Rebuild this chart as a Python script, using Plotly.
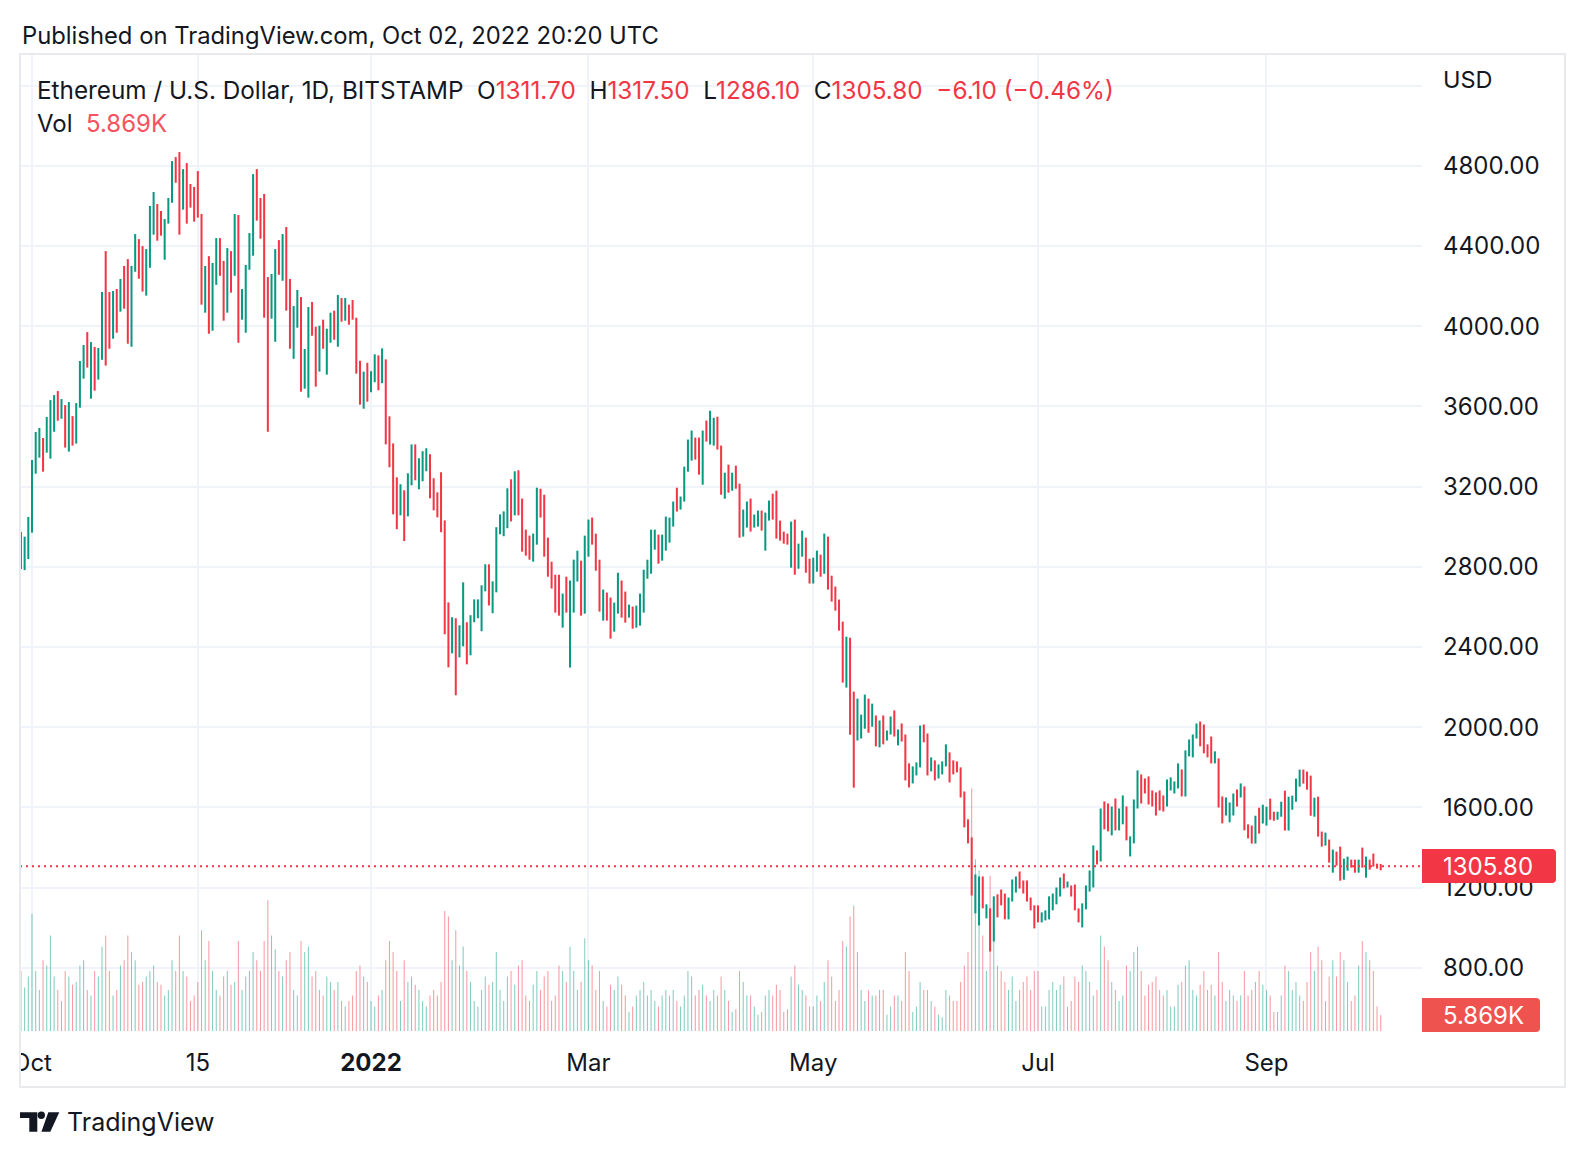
import pandas as pd
import plotly.graph_objects as go

# ---------------- data ----------------
dates = pd.date_range("2021-09-28", "2022-10-02", freq="D")

high = [
    2973, 2950, 3048,
    3332, 3472, 3492, 3442, 3547, 3631, 3656, 3676, 3636, 3606, 3621, 3551, 3616, 3826, 3906, 3970, 3920, 3896, 3891, 4170,
    4374, 4170, 4175, 4185, 4235, 4300, 4334, 4300, 4459, 4434, 4399,
    4384, 4599, 4669, 4609, 4574, 4534, 4639, 4823, 4843, 4868, 4783, 4813, 4709, 4694, 4773, 4559, 4300, 4349, 4315, 4439,
    4439, 4325, 4389, 4374, 4559, 4554, 4185, 4305, 4464, 4758,
    4783, 4639, 4659, 4245, 4260, 4384, 4429, 4459, 4494, 4235, 4100, 4180, 4145, 3886, 4095, 4120, 3997, 4002, 4032, 3987,
    4067, 4077, 4155, 4140, 4140, 4107, 4130, 4042, 3827, 3773, 3817,
    3775, 3859, 3854, 3889, 3834, 3550, 3415, 3246, 3211, 3181, 3266, 3410, 3410, 3341, 3376, 3391, 3361, 3241, 3171, 3271,
    3031, 2622, 2548, 2543, 2508, 2722, 2523, 2558, 2637, 2637, 2707,
    2812, 2812, 2727, 2997, 3061, 3076, 3191, 3236, 3276, 3281, 3140, 2985, 2955, 2965, 3194, 3189, 3159, 2945, 2825, 2760,
    2760, 2666, 2750, 2731, 2835, 2880, 2830, 2955,
    3035, 3045, 2965, 2835, 2686, 2671, 2646, 2621, 2770, 2731, 2676, 2611, 2601, 2606, 2666, 2785, 2835, 2985, 2985, 2960,
    2960, 3050, 3045, 3125, 3194, 3150, 3299, 3434, 3479, 3444, 3444,
    3479, 3529, 3578, 3543, 3548, 3404, 3269, 3309, 3269, 3304, 3214, 3085, 3125, 3140, 3060, 3080, 3080, 3070, 3130, 3164,
    3179, 3030, 2975, 2965, 3025, 3035, 2915, 2980, 2945, 2840,
    2845, 2880, 2860, 2965, 2950, 2755, 2701, 2636, 2526, 2451, 2446, 2177, 2142, 2062, 2162, 2142, 2117, 2058, 2033, 2058,
    1983, 2053, 2083, 1988, 2018, 1963, 1819, 1804, 1824, 2008, 2013,
    1968, 1849, 1834, 1814, 1829, 1914, 1874, 1834, 1829, 1799, 1679, 1540, 1450, 1265, 1255, 1255, 1116, 1096, 1156, 1166,
    1190, 1170, 1150, 1240, 1255, 1280, 1235, 1235, 1150, 1111,
    1111, 1076, 1086, 1156, 1170, 1200, 1250, 1270, 1230, 1210, 1215, 1096, 1121, 1210, 1285, 1410, 1385, 1594, 1629, 1619,
    1604, 1644, 1594, 1659, 1604, 1455, 1639, 1784, 1764, 1744, 1754,
    1684, 1674, 1684, 1659, 1739, 1749, 1729, 1819, 1789, 1884, 1938, 1963, 2018, 2028, 2013, 1914, 1953, 1879, 1844, 1654,
    1649, 1624, 1669, 1689, 1719, 1704, 1515, 1509, 1558, 1598, 1613,
    1603, 1643, 1578, 1578, 1628, 1683, 1653, 1658, 1743, 1788, 1788, 1778, 1758, 1648, 1653, 1479, 1474, 1439, 1389, 1379,
    1404, 1344, 1354, 1339, 1339, 1339, 1399, 1354, 1339, 1369,
    1319, 1317.5,
]

low = [
    2788, 2783, 2838,
    2970, 3264, 3344, 3274, 3369, 3339, 3473, 3528, 3538, 3394, 3374, 3404, 3414, 3593, 3738, 3793, 3638, 3678, 3733, 3832,
    3803, 3887, 3937, 3967, 4072, 4087, 3912, 3897, 4271, 4236, 4172,
    4152, 4291, 4456, 4426, 4451, 4331, 4511, 4615, 4715, 4456, 4581, 4511, 4591, 4521, 4541, 4107, 4067, 3962, 3977, 4206,
    4251, 4027, 4067, 4167, 4251, 3917, 4032, 3967, 4281, 4351,
    4526, 4436, 4042, 3473, 4037, 3922, 4256, 4226, 4077, 3887, 3837, 3992, 3673, 3688, 3643, 3952, 3698, 3773, 3887, 3758,
    3917, 3932, 3897, 4022, 4027, 4007, 4032, 3763, 3608, 3588, 3623,
    3670, 3720, 3680, 3715, 3410, 3296, 3061, 2987, 3056, 2928, 3051, 3206, 3231, 3186, 3226, 3276, 3141, 3081, 3046, 2972,
    2463, 2298, 2368, 2159, 2348, 2403, 2313, 2358, 2523, 2543, 2478,
    2677, 2607, 2568, 2672, 2962, 2952, 2992, 3026, 3056, 3056, 2875, 2855, 2835, 2825, 2910, 3045, 2850, 2750, 2691, 2571,
    2556, 2496, 2571, 2297, 2571, 2726, 2556, 2566,
    2850, 2910, 2780, 2576, 2531, 2531, 2441, 2476, 2566, 2546, 2521, 2546, 2491, 2496, 2506, 2571, 2740, 2765, 2885, 2815,
    2830, 2880, 2920, 3000, 3075, 3085, 3125, 3274, 3329, 3334, 3259,
    3209, 3424, 3409, 3404, 3384, 3159, 3139, 3169, 3179, 3189, 2945, 2950, 2995, 2975, 2995, 3000, 2980, 2880, 3030, 3035,
    2940, 2930, 2915, 2910, 2795, 2760, 2790, 2850, 2770, 2716,
    2716, 2775, 2750, 2765, 2686, 2626, 2581, 2481, 2222, 2197, 1962, 1698, 1933, 1943, 1992, 1972, 2002, 1904, 1899, 1914,
    1933, 1963, 1953, 1909, 1928, 1734, 1699, 1719, 1759, 1799, 1924,
    1759, 1779, 1734, 1744, 1764, 1804, 1724, 1764, 1774, 1649, 1500, 1420, 1160, 1071, 1011, 1096, 1046, 881, 931, 1051,
    1111, 1041, 1041, 1130, 1175, 1195, 1170, 1130, 1086, 996,
    1026, 1026, 1036, 1041, 1086, 1116, 1155, 1195, 1200, 1155, 1086, 1026, 1001, 1091, 1180, 1200, 1315, 1330, 1490, 1480,
    1460, 1485, 1485, 1515, 1435, 1355, 1420, 1594, 1619, 1669, 1614,
    1604, 1559, 1584, 1579, 1604, 1684, 1669, 1694, 1654, 1654, 1854, 1849, 1943, 1904, 1869, 1849, 1819, 1819, 1599, 1520,
    1559, 1525, 1559, 1604, 1649, 1485, 1445, 1419, 1419, 1469, 1519,
    1509, 1538, 1533, 1538, 1553, 1484, 1484, 1588, 1628, 1703, 1718, 1688, 1558, 1553, 1454, 1404, 1409, 1324, 1274, 1309,
    1234, 1239, 1284, 1299, 1274, 1274, 1299, 1249, 1289, 1304,
    1294, 1286.1,
]

# 'g' = close above open (green bar), 'r' = close below open (red bar)
direction = (
    "rgg"
    + "gggrgggrgrgrgggrgrggrrgrgrrggrr"
    + "gggrrgggrrgrrrrrgrggrrgrgrgggg"
    + "rrrrggrgrrggrggrrgrggrgrgrrrrgr"
    + "ggrgrrrrgrggrgggrrrrrrgrggrgggg"
    + "grgggggrgrrrrggrrrrrrgrgggrg"
    + "grrrgrrggrrgrggggggrggggrggggrr"
    + "grggrrgrgrrggrggrggrrrrrgrggrr"
    + "ggrgrrrrrgrrgggrgrgrggrgrrrgggr"
    + "rgrgggrrrrrrrggrgrgrrrgggrrrrr"
    + "rggggggrgrrrggggrgrrgrggrgggrrr"
    + "rrrrggggrggggrrrrgrrgggrgrrrgrg"
    + "grrggrggggrrrgrrgrgrrggrrgrgrr"
    + "rr"
)

# daily volume, thousands of ETH
volume_k = [
    22, 16, 20,
    43, 22, 15, 26, 24, 35, 20, 15, 11, 22, 20, 17, 18, 24, 26, 15, 13, 22, 20, 31, 35, 22, 13, 15, 24, 26, 35, 29, 26, 17, 18,
    20, 22, 24, 18, 17, 13, 15, 26, 22, 35, 22, 20, 11, 13, 18, 37, 26, 33, 22, 15, 13, 20, 22, 17, 18, 33, 15, 20, 22, 29,
    26, 22, 33, 48, 35, 30, 22, 20, 26, 29, 15, 13, 33, 29, 31, 20, 22, 15, 13, 20, 18, 15, 18, 11, 9, 11, 13, 22, 24, 20, 18,
    11, 9, 13, 15, 26, 33, 29, 22, 11, 26, 18, 20, 17, 15, 11, 9, 13, 15, 13, 18, 44, 42, 26, 37, 24, 31, 22, 18, 11, 9, 15,
    20, 17, 18, 29, 15, 11, 20, 22, 17, 24, 26, 13, 11, 17, 22, 15, 20, 22, 11, 13, 24, 22, 18, 31, 22, 15, 18, 34,
    26, 24, 15, 22, 11, 9, 17, 15, 20, 17, 13, 7, 9, 13, 15, 18, 13, 15, 11, 9, 13, 15, 13, 15, 11, 9, 13, 22, 20, 13, 15,
    17, 13, 11, 15, 13, 20, 15, 11, 7, 8, 22, 18, 13, 13, 9, 6, 7, 13, 15, 13, 17, 15, 7, 8, 20, 24, 17, 15, 13, 9,
    9, 13, 11, 18, 26, 20, 11, 15, 33, 31, 42, 46, 29, 15, 11, 15, 13, 13, 15, 15, 6, 9, 13, 13, 11, 29, 22, 7, 9, 18, 15,
    15, 11, 9, 6, 5, 15, 13, 11, 11, 18, 24, 29, 89, 63, 59, 35, 22, 57, 37, 24, 22, 18, 15, 20, 11, 15, 18, 20, 15, 22,
    22, 9, 9, 15, 18, 15, 17, 20, 9, 11, 20, 18, 24, 22, 18, 13, 15, 35, 31, 26, 18, 15, 11, 13, 24, 22, 29, 31, 22, 13, 17,
    18, 20, 15, 13, 15, 9, 9, 17, 18, 24, 26, 15, 13, 17, 22, 15, 17, 13, 29, 18, 11, 15, 13, 11, 13, 22, 13, 15, 18, 22, 17,
    15, 13, 7, 7, 13, 24, 22, 15, 18, 13, 11, 18, 29, 22, 31, 26, 11, 20, 26, 20, 29, 26, 18, 11, 13, 24, 33, 29, 26, 22,
    9, 5.869,
]

last_open, last_high, last_low, last_close = 1311.70, 1317.50, 1286.10, 1305.80
last_change, last_change_pct = -6.10, -0.46
last_volume_text = "5.869K"

price_tickvals = [800, 1200, 1600, 2000, 2400, 2800, 3200, 3600, 4000, 4400, 4800, 5200]
price_ticktext = ["800.00", "1200.00", "1600.00", "2000.00", "2400.00", "2800.00", "3200.00",
                  "3600.00", "4000.00", "4400.00", "4800.00", ""]
time_tickvals = ["2021-10-01", "2021-11-15", "2022-01-01", "2022-03-01", "2022-05-01", "2022-07-01", "2022-09-01"]
time_ticktext = ["Oct", "15", "<b>2022</b>", "Mar", "May", "Jul", "Sep"]

assert len(dates) == len(high) == len(low) == len(direction) == len(volume_k), (
    len(dates), len(high), len(low), len(direction), len(volume_k))

# ---------------- style ----------------
UP = "#089981"
DOWN = "#F23645"
UP_VOL = "rgba(8,153,129,0.5)"
DOWN_VOL = "rgba(242,54,69,0.5)"
TXT = "#131722"
GRID = "#F0F3FA"
FONT = "Inter, Roboto, sans-serif"

W, H = 1586, 1158
ML, MR, MT, MB = 20, 164, 54, 127
PW, PH = W - ML - MR, H - MT - MB


def px(x):
    return (x - ML) / PW


def py(y):
    return (H - MB - y) / PH


DAY_MS = 86400000
up_idx = [i for i, d in enumerate(direction) if d == "g"]
dn_idx = [i for i, d in enumerate(direction) if d == "r"]

fig = go.Figure()

for idx, col in ((up_idx, UP_VOL), (dn_idx, DOWN_VOL)):
    fig.add_trace(go.Bar(
        x=[dates[i] for i in idx], y=[volume_k[i] for i in idx],
        marker=dict(color=col, line=dict(width=0)), width=0.28 * DAY_MS,
        yaxis="y2", hoverinfo="skip"))

for idx, col in ((up_idx, UP), (dn_idx, DOWN)):
    fig.add_trace(go.Bar(
        x=[dates[i] for i in idx],
        base=[low[i] for i in idx],
        y=[high[i] - low[i] for i in idx],
        marker=dict(color=col, line=dict(width=0)), width=0.55 * DAY_MS,
        hoverinfo="skip"))

fig.update_layout(
    width=W, height=H, margin=dict(l=ML, r=MR, t=MT, b=MB, pad=0),
    paper_bgcolor="white", plot_bgcolor="white", showlegend=False,
    barmode="overlay", hovermode=False, font=dict(family=FONT, color=TXT),
    xaxis=dict(type="date", range=["2021-09-27 17:51", "2022-10-13 04:48"],
               tickvals=time_tickvals, ticktext=time_ticktext,
               showgrid=True, gridcolor=GRID, gridwidth=2, zeroline=False, showline=False,
               ticks="", ticklabelstandoff=15, tickfont=dict(size=24, color=TXT, family=FONT)),
    yaxis=dict(side="right", range=[484.3, 5357.1], tickvals=price_tickvals, ticktext=price_ticktext,
               showgrid=True, gridcolor=GRID, gridwidth=2, zeroline=False, showline=False,
               ticks="", ticklabelstandoff=20, tickfont=dict(size=24, color=TXT, family=FONT)),
    yaxis2=dict(overlaying="y", range=[0, 358.5], visible=False),
)

shapes = []
# last price dotted line
shapes.append(dict(type="line", xref="paper", yref="y", x0=0, x1=1, y0=last_close, y1=last_close,
                   line=dict(color=DOWN, width=2, dash="2px,4px"), layer="above"))


def rounded_box(x0, y0, x1, y1, r):
    return (f"M {px(x0)},{py(y0)} L {px(x1 - r)},{py(y0)} Q {px(x1)},{py(y0)} {px(x1)},{py(y0 + r)} "
            f"L {px(x1)},{py(y1 - r)} Q {px(x1)},{py(y1)} {px(x1 - r)},{py(y1)} L {px(x0)},{py(y1)} Z")


shapes.append(dict(type="path", xref="paper", yref="paper", path=rounded_box(1422, 849, 1556, 883, 4),
                   fillcolor=DOWN, line=dict(width=0), layer="above"))
shapes.append(dict(type="path", xref="paper", yref="paper", path=rounded_box(1422, 998, 1540, 1032, 4),
                   fillcolor="#EF5350", line=dict(width=0), layer="above"))
# mask left of frame (clips the first time label)
shapes.append(dict(type="rect", xref="paper", yref="paper", x0=px(0), x1=px(19), y0=py(1086), y1=py(1032),
                   fillcolor="white", line=dict(width=0), layer="above"))
# outer frame
shapes.append(dict(type="rect", xref="paper", yref="paper", x0=px(20), x1=px(1565), y0=py(1087), y1=py(54),
                   line=dict(color="#E9EAEE", width=2), fillcolor="rgba(0,0,0,0)", layer="above"))
# TradingView logo
shapes.append(dict(type="path", xref="paper", yref="paper",
                   path=(f"M {px(20)},{py(1112.3)} L {px(37.3)},{py(1112.3)} L {px(37.3)},{py(1131.7)} "
                         f"L {px(29.3)},{py(1131.7)} L {px(29.3)},{py(1117.9)} L {px(20)},{py(1117.9)} Z"),
                   fillcolor=TXT, line=dict(width=0)))
shapes.append(dict(type="circle", xref="paper", yref="paper", x0=px(37.6), x1=px(45), y0=py(1119), y1=py(1111.6),
                   fillcolor=TXT, line=dict(width=0)))
shapes.append(dict(type="path", xref="paper", yref="paper",
                   path=(f"M {px(48.3)},{py(1112.3)} L {px(59.3)},{py(1112.3)} L {px(50.3)},{py(1131.7)} "
                         f"L {px(41.4)},{py(1131.7)} Z"),
                   fillcolor=TXT, line=dict(width=0)))
fig.update_layout(shapes=shapes)


def ann(x, y, text, size, color=TXT, xanchor="left"):
    fig.add_annotation(xref="paper", yref="paper", x=px(x), y=py(y), text=text, showarrow=False,
                       xanchor=xanchor, yanchor="middle", font=dict(family=FONT, size=size, color=color))


red = lambda s: f"<span style='color:{DOWN}'>{s}</span>"
chg = f"{last_change:.2f} ({last_change_pct:.2f}%)".replace("-", "\u2212")
nb = "\u00a0\u00a0"
header = ("Ethereum / U.S. Dollar, 1D, BITSTAMP" + nb
          + "O" + red(f"{last_open:.2f}") + nb + "H" + red(f"{last_high:.2f}") + nb
          + "L" + red(f"{last_low:.2f}") + nb + "C" + red(f"{last_close:.2f}") + nb + red(chg))
ann(20, 35, "Published on TradingView.com, Oct 02, 2022 20:20 UTC", 23.8)
ann(35, 90, header, 24.3)
ann(35, 123.5, "Vol" + nb + f"<span style='color:#F7525F'>{last_volume_text}</span>", 24)
ann(1441, 80, "USD", 23.5)
ann(1441, 866, f"{last_close:.2f}", 24, color="white")
ann(1441, 1015, last_volume_text, 24, color="white")
ann(65, 1122, "TradingView", 25)

fig.write_html("out.html", config={"displayModeBar": False, "staticPlot": True},
               post_script="document.body.style.margin='0';document.body.style.overflow='hidden';")
